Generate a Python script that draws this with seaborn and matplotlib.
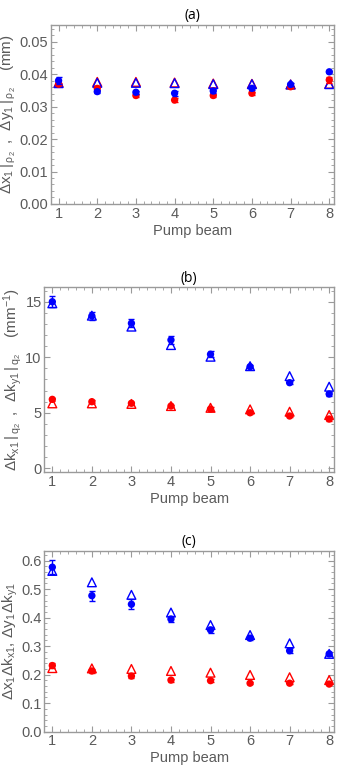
import numpy as np
import pandas as pd
import matplotlib
matplotlib.use("Agg")
import matplotlib.pyplot as plt
from matplotlib.ticker import MultipleLocator, FormatStrFormatter
import seaborn as sns

beams = [1, 2, 3, 4, 5, 6, 7, 8]

# (a) beam widths
a_x_exp = [0.0380, 0.0346, 0.0344, 0.0341, 0.0348, 0.0356, 0.0368, 0.0407]
a_x_err = [0.0012, 0.0004, 0.0005, 0.0007, 0.0006, 0.0004, 0.0004, 0.0003]
a_y_exp = [0.0369, 0.0356, 0.0334, 0.0320, 0.0334, 0.0341, 0.0361, 0.0382]
a_y_err = [0.0004, 0.0004, 0.0004, 0.0005, 0.0004, 0.0004, 0.0003, 0.0008]
a_x_th = [0.0372, 0.0373, 0.0373, 0.0372, 0.0369, 0.0369, 0.0368, 0.0369]
a_y_th = [0.0374, 0.0376, 0.0376, 0.0374, 0.0371, 0.0370, 0.0368, 0.0370]

# (b) momentum widths
b_x_exp = [15.0, 13.72, 13.06, 11.56, 10.27, 9.15, 7.71, 6.69]
b_x_err = [0.5, 0.35, 0.35, 0.35, 0.25, 0.15, 0.15, 0.15]
b_y_exp = [6.21, 6.0, 5.86, 5.61, 5.34, 5.0, 4.71, 4.44]
b_y_err = [0.15, 0.12, 0.12, 0.1, 0.15, 0.12, 0.12, 0.15]
b_x_th = [14.86, 13.75, 12.76, 11.1, 10.05, 9.2, 8.3, 7.35]
b_y_th = [5.85, 5.85, 5.8, 5.61, 5.45, 5.31, 5.1, 4.8]

# (c) products
c_x_exp = [0.577, 0.477, 0.447, 0.395, 0.357, 0.328, 0.284, 0.273]
c_x_err = [0.025, 0.018, 0.017, 0.01, 0.01, 0.008, 0.008, 0.008]
c_y_exp = [0.232, 0.213, 0.195, 0.181, 0.179, 0.170, 0.170, 0.167]
c_y_err = [0.008, 0.006, 0.005, 0.005, 0.005, 0.004, 0.004, 0.005]
c_x_th = [0.564, 0.524, 0.480, 0.418, 0.374, 0.339, 0.310, 0.273]
c_y_th = [0.223, 0.222, 0.220, 0.213, 0.207, 0.199, 0.191, 0.181]

titles = ["(a)", "(b)", "(c)"]
ylabels = [
    r"$\Delta x_1\,|_{\,\rho_2}\;\;,\;\;\Delta y_1\,|_{\,\rho_2}\quad\;(\mathrm{mm})$",
    r"$\Delta k_{x1}\,|_{\,q_2}\;\;,\;\;\Delta k_{y1}\,|_{\,q_2}\quad\;(\mathrm{mm}^{-1})$",
    r"$\Delta x_1 \Delta k_{x1},\,\Delta y_1 \Delta k_{y1}$",
]

sns.set_style("ticks")
plt.rcParams["font.family"] = ["Liberation Sans", "DejaVu Sans"]
plt.rcParams["mathtext.fontset"] = "custom"
plt.rcParams["mathtext.rm"] = "Liberation Sans"
plt.rcParams["mathtext.it"] = "Liberation Sans"
plt.rcParams["mathtext.default"] = "regular"

fig = plt.figure(figsize=(3.39, 7.68), dpi=100)
boxes = [
    [0.150, 0.7344, 0.835, 0.2330],
    [0.131, 0.3850, 0.854, 0.2409],
    [0.131, 0.0473, 0.854, 0.2357],
]
ylims = [(0, 0.0551), (-0.36, 16.3), (0, 0.635)]
ymajor = [0.01, 5, 0.1]
yminor = [0.002, 1, 0.02]
yfmt = ["%.2f", "%d", "%.1f"]

panels = [
    (a_x_exp, a_x_err, a_y_exp, a_y_err, a_x_th, a_y_th),
    (b_x_exp, b_x_err, b_y_exp, b_y_err, b_x_th, b_y_th),
    (c_x_exp, c_x_err, c_y_exp, c_y_err, c_x_th, c_y_th),
]

gray = "#9a9a9a"
tick_col = "#5a5a5a"

for i, (xe, xerr, ye, yerr, xt, yt) in enumerate(panels):
    ax = fig.add_axes(boxes[i])
    df = pd.DataFrame({"beam": beams, "xe": xe, "ye": ye, "xt": xt, "yt": yt})

    # theory (open triangles)
    sns.scatterplot(data=df, x="beam", y="yt", marker="^", s=40, facecolor="none",
                    edgecolor="red", linewidth=1.0, ax=ax, zorder=2)
    sns.scatterplot(data=df, x="beam", y="xt", marker="^", s=40, facecolor="none",
                    edgecolor="blue", linewidth=1.0, ax=ax, zorder=2)
    # experiment (filled dots + error bars)
    ax.errorbar(beams, ye, yerr=yerr, fmt="none", ecolor="red", elinewidth=1.0,
                capsize=2, capthick=1.0, zorder=3)
    sns.scatterplot(data=df, x="beam", y="ye", marker="o", s=28, color="red",
                    edgecolor="none", ax=ax, zorder=3)
    ax.errorbar(beams, xe, yerr=xerr, fmt="none", ecolor="blue", elinewidth=1.0,
                capsize=2, capthick=1.0, zorder=4)
    sns.scatterplot(data=df, x="beam", y="xe", marker="o", s=28, color="blue",
                    edgecolor="none", ax=ax, zorder=4)

    ax.set_xlim(0.8, 8.12)
    ax.set_ylim(*ylims[i])
    ax.xaxis.set_major_locator(MultipleLocator(1))
    ax.xaxis.set_minor_locator(MultipleLocator(0.2))
    ax.yaxis.set_major_locator(MultipleLocator(ymajor[i]))
    ax.yaxis.set_minor_locator(MultipleLocator(yminor[i]))
    ax.yaxis.set_major_formatter(FormatStrFormatter(yfmt[i]))

    ax.tick_params(which="both", direction="in", top=True, right=True,
                   color=gray, labelcolor=tick_col, labelsize=10.5, pad=2)
    ax.tick_params(which="major", length=4, width=0.8)
    ax.tick_params(which="minor", length=2, width=0.6)
    for sp in ax.spines.values():
        sp.set_color(gray)
        sp.set_linewidth(1.0)

    ax.set_xlabel("Pump beam", fontsize=10.5, color=tick_col, labelpad=2)
    ax.set_ylabel(ylabels[i], fontsize=11, color=tick_col, labelpad=1)
    ax.set_title(titles[i], fontsize=10, color="black", family=["Open Sans", "DejaVu Sans"], pad=4)

fig.savefig("out.png", dpi=100)
